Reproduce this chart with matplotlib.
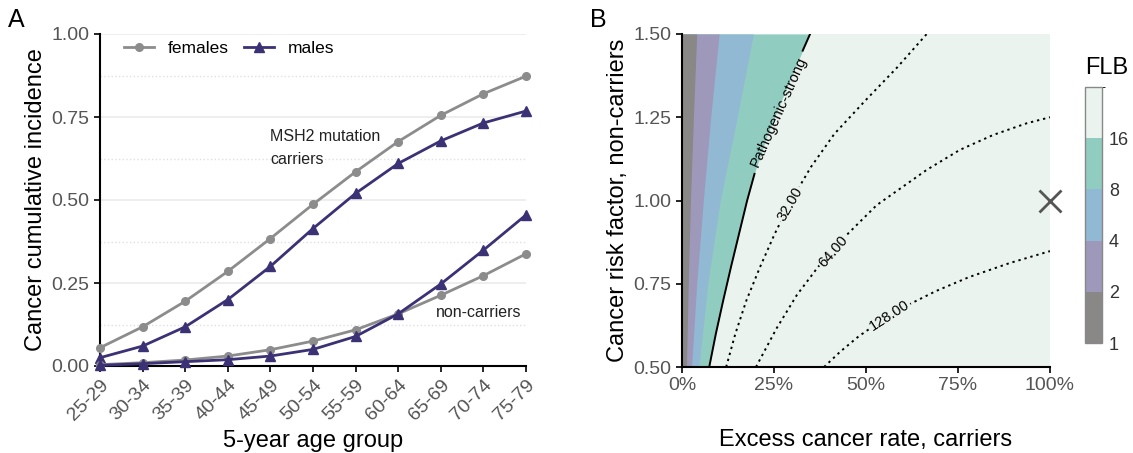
import numpy as np
import matplotlib
matplotlib.use('Agg')
import matplotlib.pyplot as plt
from matplotlib.colors import ListedColormap, BoundaryNorm
from matplotlib.cm import ScalarMappable
from matplotlib.ticker import FuncFormatter, MultipleLocator

plt.rcParams['font.family'] = ['Liberation Sans', 'DejaVu Sans']

# panel A data
ages = ['25-29', '30-34', '35-39', '40-44', '45-49', '50-54',
        '55-59', '60-64', '65-69', '70-74', '75-79']
females_carriers = [0.055, 0.118, 0.195, 0.285, 0.384, 0.487, 0.585, 0.676, 0.755, 0.820, 0.873]
males_carriers = [0.025, 0.060, 0.118, 0.200, 0.300, 0.414, 0.520, 0.610, 0.678, 0.732, 0.768]
females_noncarriers = [0.004, 0.010, 0.018, 0.030, 0.049, 0.075, 0.109, 0.157, 0.213, 0.272, 0.338]
males_noncarriers = [0.002, 0.007, 0.013, 0.019, 0.030, 0.050, 0.089, 0.157, 0.247, 0.349, 0.455]

# panel B: FLB contour boundaries (excess rate, risk factor)
band_y = [0.5, 0.75, 1.0, 1.25, 1.5]
flb2_x = [0.012, 0.017, 0.023, 0.031, 0.040]
flb4_x = [0.026, 0.040, 0.058, 0.078, 0.101]
flb8_x = [0.046, 0.070, 0.104, 0.150, 0.194]
flb16_y = [0.5, 0.6, 0.7, 0.8, 0.9, 1.0, 1.08, 1.1, 1.2, 1.3, 1.4, 1.45, 1.5]
flb16_x = [0.074, 0.092, 0.112, 0.133, 0.155, 0.177, 0.197, 0.202, 0.233, 0.270, 0.308, 0.328, 0.348]
flb32_y = [0.5, 0.6, 0.7, 0.8, 0.9, 1.0, 1.1, 1.2, 1.3, 1.4, 1.5]
flb32_x = [0.120, 0.145, 0.175, 0.212, 0.252, 0.297, 0.350, 0.414, 0.498, 0.585, 0.665]
flb64_x = [0.201, 0.257, 0.312, 0.370, 0.447, 0.529, 0.665, 0.755, 0.846, 0.937, 1.0]
flb64_y = [0.5, 0.616, 0.716, 0.801, 0.896, 0.986, 1.092, 1.152, 1.197, 1.232, 1.25]
flb128_x = [0.386, 0.43, 0.48, 0.54, 0.61, 0.69, 0.78, 0.89, 1.0]
flb128_y = [0.5, 0.546, 0.592, 0.638, 0.684, 0.728, 0.77, 0.812, 0.848]
flb_levels = [1, 2, 4, 8, 16, 32]
flb_colors = ['#8a8787', '#9e99bb', '#92b9d3', '#90cdc0', '#eaf3ed']

grey = '#8c8c8c'
purple = '#3b3175'
tick_col = '#555555'

fig = plt.figure(figsize=(11.33, 4.53), dpi=100)
axA = fig.add_axes([100/1133, 87/453, 426/1133, 332/453])
axB = fig.add_axes([682/1133, 86/453, 368/1133, 333/453])
cax = fig.add_axes([1085/1133, 110/453, 17/1133, 256/453])

# ---- panel A
x = np.arange(len(ages))
axA.plot(x, females_carriers, '-o', color=grey, lw=2, ms=5.5, clip_on=False, zorder=3, label='females')
axA.plot(x, males_carriers, '-^', color=purple, lw=2, ms=6.5, clip_on=False, zorder=3, label='males')
axA.plot(x, females_noncarriers, '-o', color=grey, lw=2, ms=5.5, clip_on=False, zorder=3)
axA.plot(x, males_noncarriers, '-^', color=purple, lw=2, ms=6.5, clip_on=False, zorder=3)

axA.set_xlim(0, 10)
axA.set_ylim(0, 1)
axA.set_xticks(x)
axA.set_xticklabels(ages, rotation=45, ha='right', rotation_mode='anchor')
axA.yaxis.set_major_locator(MultipleLocator(0.25))
axA.yaxis.set_minor_locator(MultipleLocator(0.125))
axA.yaxis.set_major_formatter(FuncFormatter(lambda v, p: f'{v:.2f}'))
axA.grid(axis='y', which='major', color='#ebebeb', lw=1.2)
axA.grid(axis='y', which='minor', color='#e0e0e0', lw=1, ls=':')
axA.tick_params(axis='y', which='minor', length=0)
axA.set_axisbelow(True)
axA.set_ylabel('Cancer cumulative incidence', fontsize=17, labelpad=3)
axA.set_xlabel('5-year age group', fontsize=17, labelpad=4)
axA.text(4.0, 0.657, 'MSH2 mutation\ncarriers', fontsize=11.5, va='center', ha='left',
         linespacing=1.7, color='#222222')
axA.text(9.9, 0.16, 'non-carriers', fontsize=11.5, va='center', ha='right', color='#222222')
axA.legend(loc='center left', bbox_to_anchor=(0.02, 0.957), ncol=2, frameon=False,
           fontsize=12.5, handlelength=1.7, columnspacing=0.9, handletextpad=0.8)

# ---- panel B
axB.set_facecolor(flb_colors[4])
axB.fill_betweenx(flb16_y, 0, flb16_x, color=flb_colors[3], lw=0)
axB.fill_betweenx(band_y, 0, flb8_x, color=flb_colors[2], lw=0)
axB.fill_betweenx(band_y, 0, flb4_x, color=flb_colors[1], lw=0)
axB.fill_betweenx(band_y, 0, flb2_x, color=flb_colors[0], lw=0)

y16 = np.array(flb16_y)
x16 = np.where((y16 > 1.08) & (y16 < 1.45), np.nan, flb16_x)
axB.plot(x16, y16, color='black', lw=1.4)
dots = (0, (1.2, 2.0))
axB.plot(flb32_x, flb32_y, color='black', lw=1.4, ls=dots)
axB.plot(flb64_x, flb64_y, color='black', lw=1.4, ls=dots)
axB.plot(flb128_x, flb128_y, color='black', lw=1.4, ls=dots)

lab_box = dict(fc=flb_colors[4], ec='none', pad=1)
axB.text(0.262, 1.268, 'Pathogenic-strong', rotation=66, fontsize=10.5,
         ha='center', va='center', rotation_mode='anchor')
axB.text(0.295, 0.988, '32.00', rotation=60, fontsize=10.5, ha='center', va='center',
         rotation_mode='anchor', bbox=lab_box)
axB.text(0.41, 0.848, '64.00', rotation=49, fontsize=10.5, ha='center', va='center',
         rotation_mode='anchor', bbox=lab_box)
axB.text(0.563, 0.655, '128.00', rotation=33, fontsize=10.5, ha='center', va='center',
         rotation_mode='anchor', bbox=lab_box)
axB.plot([1.0], [1.0], marker='x', ms=16, mew=2, color='#555555', clip_on=False, zorder=5)

axB.set_xlim(0, 1)
axB.set_ylim(0.5, 1.5)
axB.set_xticks([0, 0.25, 0.5, 0.75, 1.0])
axB.xaxis.set_major_formatter(FuncFormatter(lambda v, p: f'{v*100:.0f}%'))
axB.set_yticks([0.5, 0.75, 1.0, 1.25, 1.5])
axB.yaxis.set_major_formatter(FuncFormatter(lambda v, p: f'{v:.2f}'))
axB.set_ylabel('Cancer risk factor, non-carriers', fontsize=17, labelpad=3)
axB.set_xlabel('Excess cancer rate, carriers', fontsize=17, labelpad=25)

for ax in (axA, axB):
    for s in ('top', 'right'):
        ax.spines[s].set_visible(False)
    for s in ('left', 'bottom'):
        ax.spines[s].set_linewidth(1.5)
    ax.tick_params(axis='both', which='major', labelsize=14, labelcolor=tick_col,
                   length=4, width=1.2)

# colorbar
cmap = ListedColormap(flb_colors)
norm = BoundaryNorm(flb_levels, cmap.N)
cb = fig.colorbar(ScalarMappable(norm=norm, cmap=cmap), cax=cax, spacing='uniform',
                  ticks=flb_levels[:-1])
cb.ax.tick_params(length=0, labelsize=13, labelcolor='#333333', pad=5)
cb.outline.set_edgecolor('#888888')
cb.outline.set_linewidth(1)
fig.text(1085/1133, 1 - 68/453, 'FLB', fontsize=17, ha='left', va='center')

fig.text(8/1133, 1 - 20/453, 'A', fontsize=18, ha='left', va='center')
fig.text(590/1133, 1 - 20/453, 'B', fontsize=18, ha='left', va='center')

fig.savefig('out.png', dpi=100)
